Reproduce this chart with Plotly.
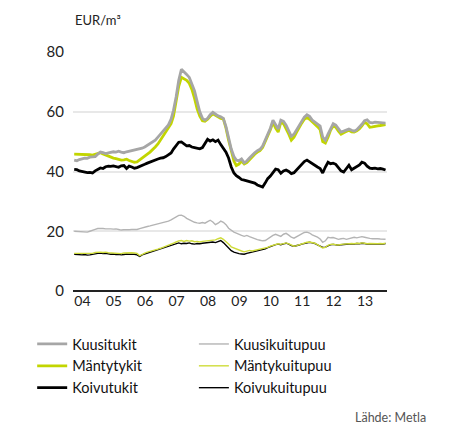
import plotly.graph_objects as go

# monthly prices, Jan 2004 .. Dec 2013 (EUR/m3)
months = [f"{y}-{m:02d}-15" for y in range(2004, 2014) for m in range(1, 13)]

kuusitukit = [
    43.8, 43.6, 44.0, 44.2, 44.5, 44.4, 44.8, 44.9, 45.0, 45.8, 46.5, 46.3,
    46.0, 46.2, 46.4, 46.6, 46.5, 46.8, 46.5, 46.3, 46.6, 46.8, 46.9, 47.0,
    47.2, 47.4, 47.8, 48.2, 48.7, 49.2, 49.8, 50.5, 51.5, 52.5, 53.5, 54.5,
    55.6, 57.5, 60.5, 65.0, 70.5, 74.2, 73.5, 72.5, 71.5, 69.5, 67.0, 63.5,
    60.0, 57.8, 57.2, 57.8, 59.0, 59.8, 59.2, 58.6, 58.3, 57.8, 55.0, 51.5,
    47.5, 45.0, 43.8, 43.6, 44.2, 42.9, 43.5, 44.5, 45.5, 46.3, 47.0, 47.4,
    48.5, 50.5, 52.5, 54.5, 57.2, 55.5, 54.2, 57.2, 56.8, 55.5, 53.8, 51.8,
    52.5, 54.0, 55.5, 57.0, 58.2, 59.0, 58.5, 57.2, 56.5, 56.0, 55.2, 51.5,
    50.5, 52.5, 54.5, 56.0, 55.5, 54.2, 53.2, 53.5, 54.0, 54.2, 53.8, 53.5,
    54.0, 54.8, 55.8, 57.0, 57.3, 56.4, 56.3, 56.5, 56.4, 56.5, 56.3, 56.2,
]
mantytukit = [
    45.8, 45.8, 45.7, 45.7, 45.6, 45.6, 45.6, 45.5, 45.8, 46.2, 46.3, 45.9,
    45.5, 45.2, 44.8, 44.5, 44.3, 44.0, 43.8, 43.9, 44.1, 43.7, 43.3, 43.1,
    43.2, 43.8, 44.5, 45.0, 45.8, 46.5, 47.2, 48.2, 49.2, 50.5, 52.0, 53.2,
    54.5, 56.0, 58.5, 63.5, 68.5, 71.5, 71.0, 70.5, 69.5, 67.5, 64.5, 61.0,
    58.5, 57.0, 56.8, 57.5, 58.5, 59.3, 58.8, 58.2, 57.8, 57.6, 54.5, 50.5,
    46.5, 43.5, 42.0, 42.5, 43.5, 42.5, 43.0, 44.0, 45.0, 45.8, 46.5, 47.0,
    48.0, 50.0, 52.0, 54.0, 56.5, 54.5, 53.2, 56.5, 56.0, 54.5, 52.5, 50.5,
    51.5, 53.2, 54.8, 56.2, 57.5, 58.0, 57.5, 56.5, 55.8, 55.0, 54.0, 50.0,
    49.5, 51.5, 53.8, 55.2, 54.8, 53.5, 52.5, 53.0, 53.5, 53.8, 53.3, 53.2,
    53.6, 54.3, 55.3, 56.5, 56.0, 54.8, 54.9, 55.2, 55.3, 55.4, 55.5, 55.7,
]
koivutukit = [
    40.7, 40.6, 40.2, 40.0, 39.8, 39.6, 39.7, 39.5, 40.2, 40.8, 41.2, 41.0,
    41.6, 41.8, 41.7, 41.9, 41.6, 41.4, 41.9, 42.0, 41.0, 41.8, 41.5, 41.1,
    41.3, 41.6, 42.0, 42.4, 42.8, 43.2, 43.6, 43.9, 44.2, 44.5, 44.6, 45.0,
    45.5, 46.2, 47.5, 48.8, 49.8, 49.9, 49.2, 48.6, 48.7, 48.2, 48.0, 47.9,
    47.6, 48.0, 49.5, 50.8, 50.2, 50.6, 50.0, 50.5, 49.0, 47.8, 46.5, 44.5,
    41.5, 39.5, 38.6, 38.0, 37.3, 37.1, 36.8, 36.5, 36.4, 36.1, 35.5, 35.2,
    34.8, 36.2, 37.6, 38.5, 39.5, 40.8, 40.6, 39.4, 40.2, 40.5, 40.0, 39.3,
    39.6, 40.6, 41.5, 42.4, 43.3, 43.8, 43.2, 42.5, 42.0, 41.5, 41.0, 39.5,
    41.5, 43.1, 42.6, 42.8, 42.4, 41.3, 40.2, 39.8, 41.0, 42.1, 40.6, 41.2,
    41.6, 42.2, 43.1, 42.8, 41.8, 41.1, 41.0, 41.1, 40.9, 41.0, 40.8, 40.5,
]
kuusikuitupuu = [
    20.0, 19.9, 19.8, 19.9, 19.8, 19.7, 20.0, 20.2, 20.6, 20.9, 21.0, 20.9,
    20.8, 20.9, 20.8, 20.7, 20.8, 20.6, 20.4, 20.5, 20.4, 20.5, 20.6, 20.5,
    20.6, 20.9, 21.2, 21.4, 21.6, 21.8, 22.0, 22.2, 22.4, 22.6, 22.9, 23.2,
    23.4, 23.8, 24.2, 24.7, 25.3, 25.4, 25.0, 24.3, 23.8, 23.3, 23.0, 22.8,
    22.7, 22.9, 22.7, 23.2, 23.7, 23.1, 22.2, 22.7, 23.4, 23.0, 22.2, 21.0,
    20.2, 19.7, 19.4, 18.9, 18.6, 18.3, 18.6, 18.2, 17.8, 17.6, 17.2, 17.0,
    16.8, 16.9, 17.5, 18.0, 18.6, 19.0, 18.7, 18.3, 19.0, 19.3, 18.7, 18.0,
    17.7, 18.2, 18.7, 19.2, 19.6, 19.7, 19.4, 18.8, 18.5, 18.0, 17.4, 16.3,
    16.8, 18.0, 17.8, 17.9, 17.6, 17.3, 17.5, 17.6, 17.3, 17.6, 17.9, 18.0,
    17.8, 18.0, 18.2, 18.0, 17.7, 17.6, 17.5, 17.6, 17.5, 17.4, 17.4, 17.3,
]
mantykuitupuu = [
    12.6, 12.6, 12.5, 12.6, 12.5, 12.6, 12.4, 12.6, 12.9, 13.0, 13.0, 12.9,
    13.0, 12.8, 12.7, 12.8, 12.7, 12.6, 12.5, 12.7, 12.8, 12.7, 12.8, 12.7,
    12.6, 11.8, 12.3, 12.7, 13.0, 13.2, 13.4, 13.7, 14.0, 14.3, 14.6, 14.9,
    15.2, 15.6, 16.0, 16.4, 16.8, 16.9, 16.6, 16.9, 16.7, 16.8, 16.5, 16.6,
    16.4, 16.6, 16.7, 16.9, 16.8, 17.0, 17.1, 17.5, 17.8, 17.3, 16.6, 15.7,
    14.8, 14.4, 14.0, 13.8, 13.4, 13.1, 13.3, 13.6, 13.4, 13.6, 13.7, 13.8,
    14.0, 14.3, 14.6, 15.0, 15.3, 15.6, 15.8, 15.6, 15.9, 16.1, 15.8, 15.3,
    15.0, 15.2, 15.5, 15.8, 16.0, 16.3, 16.4, 16.3, 16.0, 15.5, 15.0, 14.4,
    14.6, 15.3, 15.6, 15.7, 15.5, 15.4, 15.6, 15.7, 15.6, 15.8, 15.9, 15.8,
    16.0, 15.9, 16.1, 16.0, 15.8, 15.9, 15.8, 15.9, 15.8, 15.9, 15.8, 16.0,
]
koivukuitupuu = [
    12.3, 12.2, 12.2, 12.1, 12.2, 12.0, 12.1, 12.3, 12.6, 12.6, 12.7, 12.5,
    12.6, 12.4, 12.3, 12.4, 12.2, 12.3, 12.1, 12.2, 12.4, 12.3, 12.4, 12.3,
    12.1, 11.6, 12.1, 12.4, 12.7, 12.9, 13.1, 13.4, 13.7, 14.0, 14.3, 14.6,
    14.9, 15.2, 15.5, 15.8, 16.1, 15.8, 16.0, 15.9, 16.1, 15.8, 15.7, 15.9,
    15.8, 16.0, 16.1, 16.0, 16.2, 16.4, 16.2, 16.6, 16.9, 16.2, 15.3, 14.3,
    13.5, 13.0, 12.7, 12.5, 12.4, 12.3, 12.6, 12.8, 13.0, 13.1, 13.4, 13.5,
    13.7, 14.1, 14.5, 14.9, 15.2, 15.5, 15.7, 15.5, 15.8, 16.0, 15.7, 15.2,
    15.0, 15.1, 15.4, 15.7, 15.9, 16.2, 16.3, 16.1, 15.9, 15.4, 15.0, 14.6,
    14.7, 15.2, 15.5, 15.6, 15.4, 15.3, 15.5, 15.6, 15.5, 15.7, 15.8, 15.7,
    15.9, 15.8, 16.0, 15.9, 15.7, 15.8, 15.7, 15.8, 15.7, 15.8, 15.7, 15.9,
]

year_ticks = [f"{y}-04-20" for y in range(2004, 2014)]
year_labels = [f"{y % 100:02d}" for y in range(2004, 2014)]

GREY = '#a6a6a6'
GREY_LT = '#b4b4b4'
GREEN = '#c2d500'
GREEN_LT = '#cfdc3a'
BLACK = '#000000'
FONT = "Lato, 'Open Sans', sans-serif"

# (name, values, colour, width, legend, rank) -- drawn in this order
series = [
    ('Koivukuitupuu', koivukuitupuu, BLACK, 1.4, 'legend2', 3),
    ('Mäntykuitupuu', mantykuitupuu, GREEN_LT, 1.4, 'legend2', 2),
    ('Kuusikuitupuu', kuusikuitupuu, GREY_LT, 1.4, 'legend2', 1),
    ('Koivutukit', koivutukit, BLACK, 2.8, 'legend', 3),
    ('Mäntytykit', mantytukit, GREEN, 2.8, 'legend', 2),
    ('Kuusitukit', kuusitukit, GREY, 2.8, 'legend', 1),
]

fig = go.Figure()
for name, vals, col, w, leg, rank in series:
    fig.add_trace(go.Scatter(
        x=months, y=vals, mode='lines', name=name,
        line=dict(color=col, width=w), legend=leg, legendrank=rank,
    ))

legend_style = dict(orientation='v', xanchor='left', yanchor='top', y=-0.155,
                    itemwidth=30, tracegroupgap=0,
                    font=dict(size=14.5, color='#111111'),
                    bgcolor='rgba(0,0,0,0)')

fig.update_layout(
    width=459, height=428,
    margin=dict(l=73, r=72, t=52, b=137),
    paper_bgcolor='white', plot_bgcolor='white',
    font=dict(family=FONT, size=14, color='#222222'),
    showlegend=True,
    legend=dict(x=-0.13, **legend_style),
    legend2=dict(x=0.385, **legend_style),
)
fig.update_xaxes(
    range=['2004-01-01', '2014-01-01'],
    tickmode='array', tickvals=year_ticks, ticktext=year_labels,
    showgrid=False, zeroline=False, showline=False, ticks='',
    tickfont=dict(size=14),
)
fig.update_yaxes(
    range=[0, 80], tickvals=[0, 20, 40, 60, 80],
    showgrid=True, gridcolor='#e8e8e8', gridwidth=2,
    zeroline=True, zerolinecolor='#222222', zerolinewidth=1.5,
    ticks='', ticklabelstandoff=8, tickfont=dict(size=15),
)

fig.add_annotation(text='EUR/m³', xref='paper', yref='paper',
                   x=0, y=1.09, xanchor='left', yanchor='bottom',
                   showarrow=False, font=dict(size=13, color='#222222'))
fig.add_annotation(text='Lähde: Metla', xref='paper', yref='paper',
                   x=1.13, y=-0.53, xanchor='right', yanchor='middle',
                   showarrow=False, font=dict(size=12.5, color='#555555'))

# page body has a default 8px margin; drop it so the figure sits at 0,0
fig.write_html("out.html", config={'displayModeBar': False},
               post_script="document.body.style.margin='0';")
